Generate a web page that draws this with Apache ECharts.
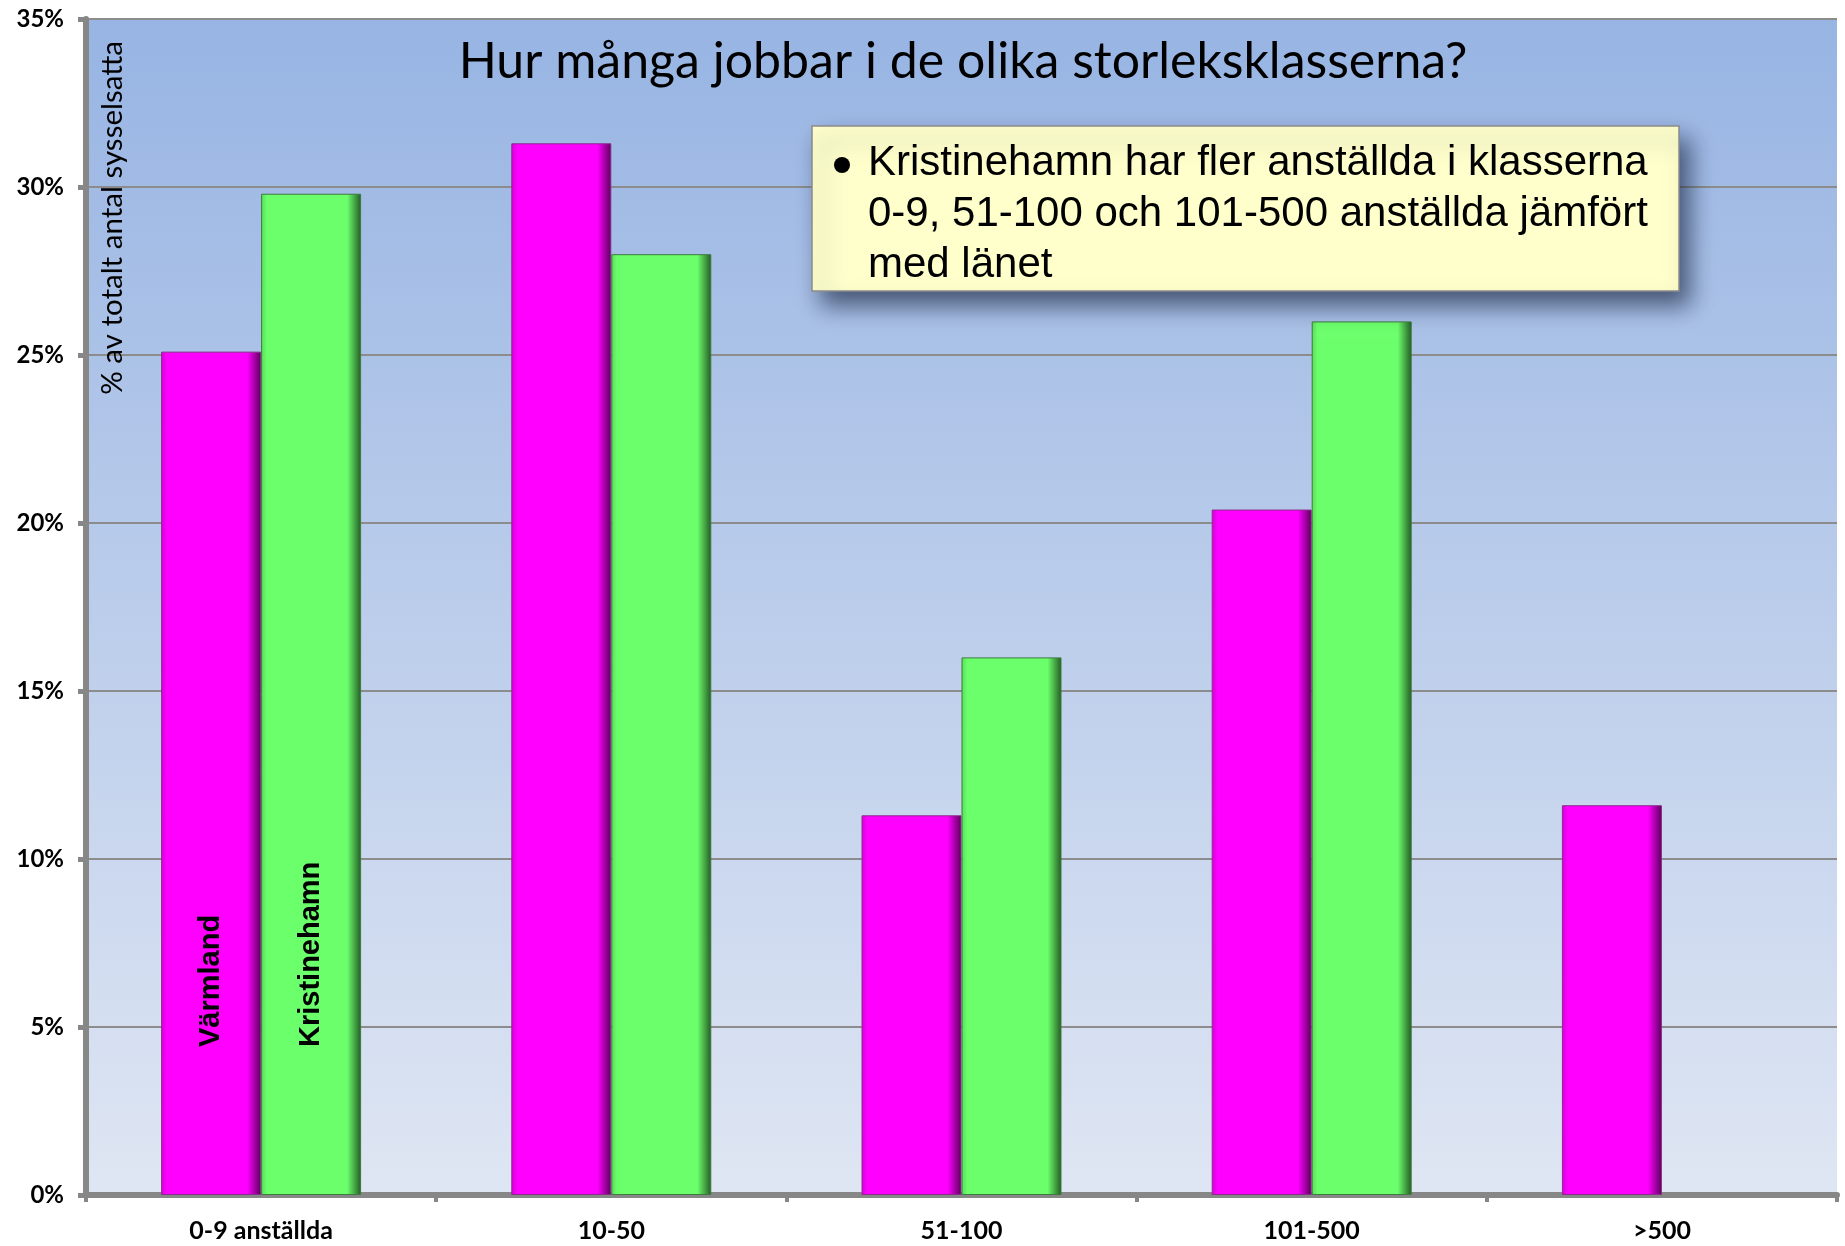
<!DOCTYPE html>
<html>
<head>
<meta charset="utf-8">
<script src="https://cdn.jsdelivr.net/npm/echarts@6/dist/echarts.min.js"></script>
<style>
  html, body { margin: 0; padding: 0; background: #fff; }
  #chart { width: 1845px; height: 1246px; }
</style>
</head>
<body>
<div id="chart"></div>
<script>
var categories = ['0-9 anställda', '10-50', '51-100', '101-500', '>500']
var varmland = [25.1, 31.3, 11.3, 20.4, 11.6]
var kristinehamn = [29.8, 28.0, 16.0, 26.0, null]
var seriesNames = ['Värmland', 'Kristinehamn']
var noteLines = [
  'Kristinehamn har fler anställda i klasserna',
  '0-9, 51-100 och 101-500 anställda jämfört',
  'med länet'
]

function barColor(left, main, right) {
  return new echarts.graphic.LinearGradient(0, 0, 1, 0, [
    { offset: 0, color: left },
    { offset: 0.06, color: main },
    { offset: 0.86, color: main },
    { offset: 1, color: right }
  ])
}

// only the first category carries the series name inside the bar
function withLabel(values, name) {
  return values.map(function (v, i) {
    if (i !== 0) return v
    return { value: v, label: { show: true, formatter: name } }
  })
}

var barLabel = {
  show: false,
  position: 'insideBottom',
  distance: 148,
  rotate: 90,
  align: 'left',
  verticalAlign: 'middle',
  fontFamily: 'Liberation Sans',
  fontWeight: 'bold',
  fontSize: 29,
  color: '#000'
}

var chart = echarts.init(document.getElementById('chart'))

var graphics = [
  {
    type: 'text',
    x: 963,
    y: 62,
    style: {
      text: 'Hur många jobbar i de olika storleksklasserna?',
      font: '50px Lato',
      fill: '#000',
      align: 'center',
      verticalAlign: 'middle'
    },
    z: 10
  },
  {
    type: 'text',
    x: 97,
    y: 41,
    rotation: Math.PI / 2,
    style: {
      text: '% av totalt antal sysselsatta',
      font: '29.5px Lato',
      fill: '#000',
      align: 'right',
      verticalAlign: 'top'
    },
    z: 10
  },
  {
    type: 'rect',
    shape: { x: 812, y: 126, width: 867, height: 165 },
    style: {
      fill: '#ffffcc',
      stroke: '#8a8a8a',
      lineWidth: 1.5,
      shadowBlur: 22,
      shadowOffsetX: 10,
      shadowOffsetY: 14,
      shadowColor: 'rgba(20,30,60,0.65)'
    },
    z: 10
  },
  {
    type: 'circle',
    shape: { cx: 842, cy: 165, r: 8 },
    style: { fill: '#000' },
    z: 11
  }
]
noteLines.forEach(function (line, i) {
  graphics.push({
    type: 'text',
    x: 868,
    y: 163 + i * 51,
    style: {
      text: line,
      font: '42px "Liberation Sans"',
      fill: '#000',
      verticalAlign: 'middle'
    },
    z: 11
  })
})

chart.setOption({
  animation: false,
  grid: {
    left: 86,
    right: 8,
    top: 19,
    bottom: 51,
    show: true,
    borderWidth: 0,
    backgroundColor: new echarts.graphic.LinearGradient(0, 0, 0, 1, [
      { offset: 0, color: '#97b4e3' },
      { offset: 1, color: '#dfe6f3' }
    ])
  },
  xAxis: {
    type: 'category',
    data: categories,
    axisLine: { lineStyle: { color: '#878787', width: 6 } },
    axisTick: { show: true, length: 7, lineStyle: { color: '#878787', width: 4 } },
    axisLabel: {
      margin: 23,
      fontFamily: 'Lato',
      fontWeight: 'bold',
      fontSize: 25,
      color: '#000'
    }
  },
  yAxis: {
    type: 'value',
    min: 0,
    max: 35,
    interval: 5,
    axisLine: { show: true, lineStyle: { color: '#878787', width: 6 } },
    axisTick: { show: true, length: 8, lineStyle: { color: '#878787', width: 5 } },
    splitLine: { lineStyle: { color: '#8c8c8c', width: 2 } },
    axisLabel: {
      formatter: '{value}%',
      margin: 22,
      fontFamily: 'Lato',
      fontWeight: 'bold',
      fontSize: 24,
      color: '#000'
    }
  },
  series: [
    {
      name: seriesNames[0],
      type: 'bar',
      data: withLabel(varmland, seriesNames[0]),
      barWidth: 100,
      barGap: '0%',
      label: barLabel,
      itemStyle: {
        color: barColor('#d600d6', '#ff00ff', '#5a005a'),
        borderColor: '#8a2a8a',
        borderWidth: 1
      }
    },
    {
      name: seriesNames[1],
      type: 'bar',
      data: withLabel(kristinehamn, seriesNames[1]),
      barWidth: 100,
      barGap: '0%',
      label: barLabel,
      itemStyle: {
        color: barColor('#56dd56', '#6cff6c', '#235a23'),
        borderColor: '#3d7a3d',
        borderWidth: 1
      }
    }
  ],
  graphic: graphics
})
</script>
</body>
</html>
